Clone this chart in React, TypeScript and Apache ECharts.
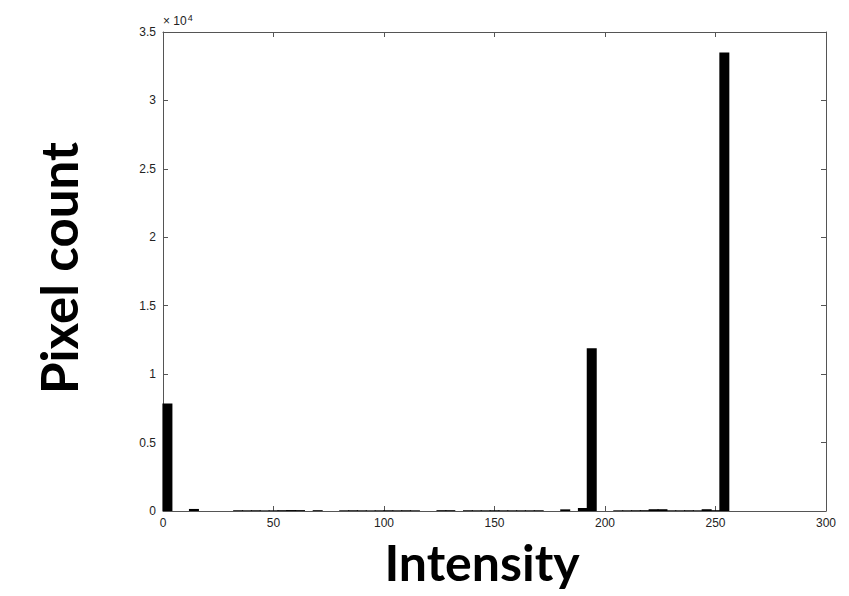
import React, { useEffect, useRef } from "react";
import * as echarts from "echarts";

// Histogram bins (width 4): bin centers of non-empty bins and their pixel counts
const binCenters = [
  2, 14, 34, 38, 42, 46, 50, 54, 58, 62, 70, 82, 86, 90, 94, 98, 102, 106, 110, 114,
  126, 130, 138, 142, 146, 150, 154, 158, 162, 166, 170, 182, 190, 194, 206, 210, 214,
  218, 222, 226, 230, 234, 238, 242, 246, 250, 254,
];
const pixelCounts = [
  7860, 150, 55, 50, 55, 45, 50, 60, 70, 65, 60, 50, 55, 50, 45, 50, 55, 50, 55, 50,
  60, 60, 55, 50, 50, 55, 50, 50, 50, 50, 55, 120, 220, 11900, 50, 50, 55,
  60, 130, 130, 50, 50, 55, 50, 130, 60, 33500,
];
const xTicks = [0, 50, 100, 150, 200, 250, 300];
const yTicks = [0, 5000, 10000, 15000, 20000, 25000, 30000, 35000];
const xLabel = "Intensity";
const yLabel = "Pixel count";
const exponentText = "× 10";
const exponentSup = "4";

export default function App() {
  const ref = useRef<HTMLDivElement>(null);
  useEffect(() => {
    if (!ref.current) return;
    const chart = echarts.init(ref.current, undefined, { renderer: "svg" });
    const axisLineStyle = { color: "#555", width: 1 };
    const tickLabel = { color: "#222", fontSize: 12, fontFamily: "Liberation Sans" };
    chart.setOption({
      animation: false,
      backgroundColor: "#fff",
      grid: { left: 163, right: 23, top: 32, bottom: 85, containLabel: false },
      xAxis: [
        {
          type: "value",
          min: xTicks[0],
          max: xTicks[xTicks.length - 1],
          interval: 50,
          position: "bottom",
          axisLine: { show: true, lineStyle: axisLineStyle },
          axisTick: { show: true, inside: true, length: 5, lineStyle: axisLineStyle },
          axisLabel: { ...tickLabel, margin: 6 },
          splitLine: { show: false },
        },
        {
          type: "value",
          min: xTicks[0],
          max: xTicks[xTicks.length - 1],
          interval: 50,
          position: "top",
          axisLine: { show: true, onZero: false, lineStyle: axisLineStyle },
          axisTick: { show: true, inside: true, length: 5, lineStyle: axisLineStyle },
          axisLabel: { show: false },
          splitLine: { show: false },
        },
      ],
      yAxis: [
        {
          type: "value",
          min: yTicks[0],
          max: yTicks[yTicks.length - 1],
          interval: 5000,
          position: "left",
          axisLine: { show: true, lineStyle: axisLineStyle },
          axisTick: { show: true, inside: true, length: 5, lineStyle: axisLineStyle },
          axisLabel: { ...tickLabel, margin: 7, formatter: (v: number) => String(v / 10000) },
          splitLine: { show: false },
        },
        {
          type: "value",
          min: yTicks[0],
          max: yTicks[yTicks.length - 1],
          interval: 5000,
          position: "right",
          axisLine: { show: true, onZero: false, lineStyle: axisLineStyle },
          axisTick: { show: true, inside: true, length: 5, lineStyle: axisLineStyle },
          axisLabel: { show: false },
          splitLine: { show: false },
        },
      ],
      series: [
        {
          type: "bar",
          xAxisIndex: 0,
          yAxisIndex: 0,
          barWidth: 10,
          itemStyle: { color: "#000" },
          data: binCenters.map((c, i) => [c, pixelCounts[i]]),
        },
      ],
      graphic: [
        {
          type: "text",
          left: 163,
          top: 13,
          style: {
            text: `${exponentText}{sup|${exponentSup}}`,
            fill: "#222",
            fontSize: 12,
            fontFamily: "Liberation Sans",
            rich: { sup: { fontSize: 9, verticalAlign: "top", padding: [0, 0, 7, 1] } },
          },
        },
        {
          type: "text",
          x: 482,
          y: 562,
          style: {
            text: xLabel,
            fill: "#000",
            fontSize: 50,
            fontWeight: "bold",
            fontFamily: "Lato",
            align: "center",
            verticalAlign: "middle",
          },
        },
        {
          type: "text",
          x: 58,
          y: 268,
          rotation: Math.PI / 2,
          style: {
            text: yLabel,
            fill: "#000",
            fontSize: 51,
            fontWeight: "bold",
            fontFamily: "Lato",
            align: "center",
            verticalAlign: "middle",
          },
        },
      ],
    });
    return () => chart.dispose();
  }, []);
  return (
    <div
      ref={ref}
      style={{ position: "fixed", left: 0, top: 0, width: 849, height: 596, background: "#fff" }}
    />
  );
}
